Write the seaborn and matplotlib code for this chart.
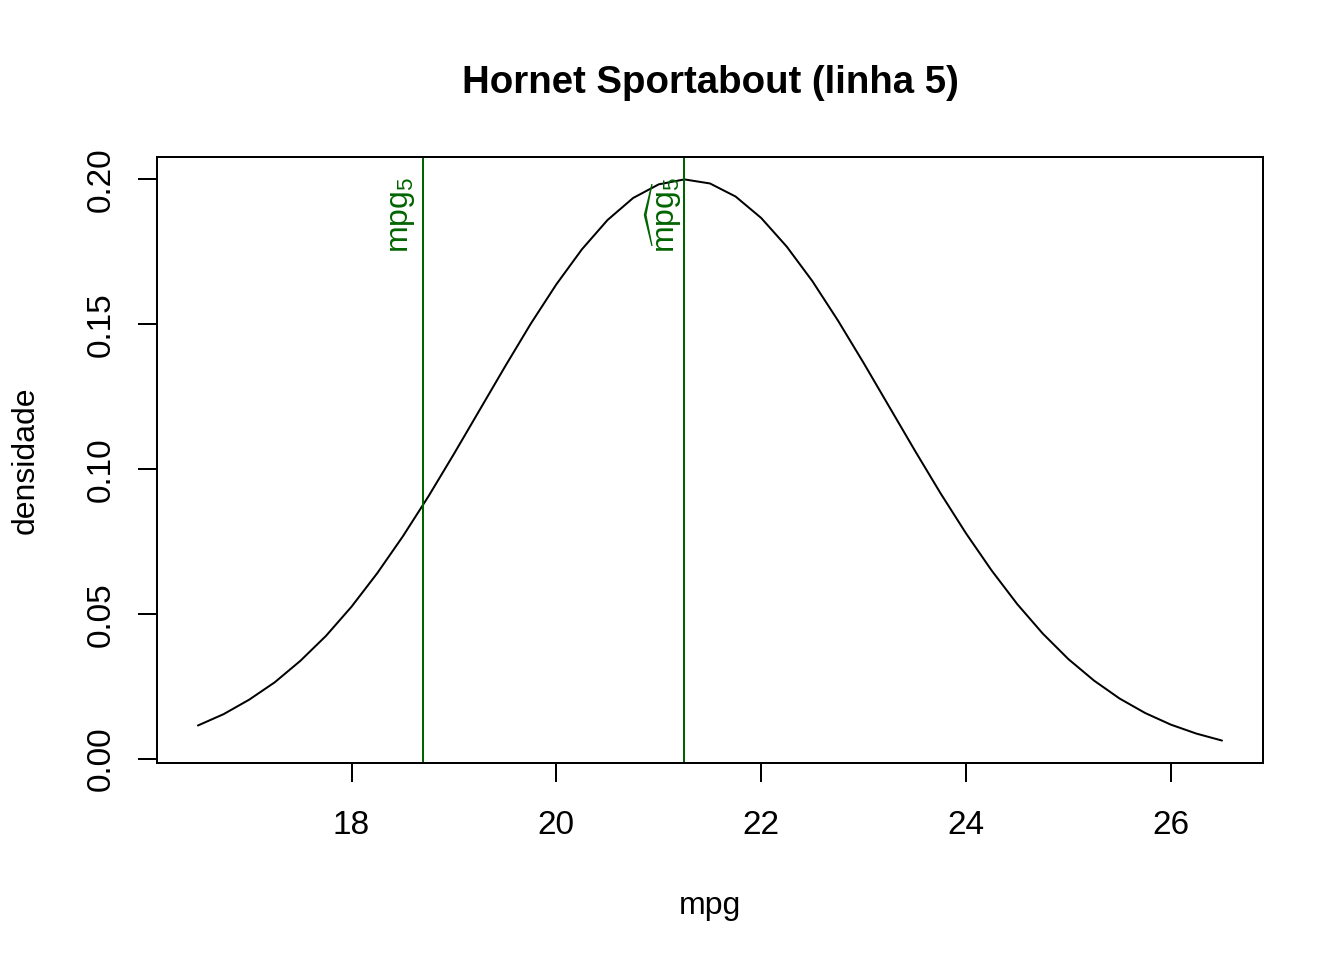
import numpy as np
import pandas as pd
import matplotlib
matplotlib.use("Agg")
import matplotlib.pyplot as plt
import seaborn as sns

# curve (mpg vs density)
mpg = [16.5, 16.75, 17.0, 17.25, 17.5, 17.75, 18.0, 18.25, 18.5, 18.75,
       19.0, 19.25, 19.5, 19.75, 20.0, 20.25, 20.5, 20.75, 21.0, 21.25,
       21.5, 21.75, 22.0, 22.25, 22.5, 22.75, 23.0, 23.25, 23.5, 23.75,
       24.0, 24.25, 24.5, 24.75, 25.0, 25.25, 25.5, 25.75, 26.0, 26.25, 26.5]
densidade = [0.0116, 0.0155, 0.0205, 0.0265, 0.0339, 0.0425, 0.0526, 0.0641, 0.0768, 0.0906,
             0.1053, 0.1204, 0.1355, 0.1502, 0.1638, 0.1759, 0.1860, 0.1936, 0.1983, 0.2000,
             0.1986, 0.1941, 0.1867, 0.1768, 0.1649, 0.1513, 0.1367, 0.1216, 0.1065, 0.0918,
             0.0779, 0.0651, 0.0535, 0.0433, 0.0345, 0.0271, 0.0209, 0.0159, 0.0119, 0.0088, 0.0064]
mpg_obs = 18.7      # mpg_5
mpg_hat = 21.25     # fitted mpg_5
xticks = [18, 20, 22, 24, 26]
yticks = [0.00, 0.05, 0.10, 0.15, 0.20]

sns.set_theme(style="white")
plt.rcParams['font.family'] = ['Liberation Sans', 'DejaVu Sans']
plt.rcParams['mathtext.fontset'] = 'custom'
plt.rcParams['mathtext.rm'] = 'Liberation Sans'
plt.rcParams['mathtext.it'] = 'Liberation Sans'
plt.rcParams['text.color'] = 'black'
plt.rcParams['axes.labelcolor'] = 'black'

df = pd.DataFrame({"mpg": mpg, "densidade": densidade})

fig = plt.figure(figsize=(7, 5), dpi=192)
ax = fig.add_axes([0.1168, 0.2052, 0.8229, 0.6313])

sns.lineplot(data=df, x="mpg", y="densidade", color="black", linewidth=0.75, ax=ax)
ax.margins(x=0.04, y=0.04)

green = "#006400"
ax.axvline(mpg_obs, color=green, linewidth=0.75)
ax.axvline(mpg_hat, color=green, linewidth=0.75)

ax.annotate(r"$\mathregular{mpg_5}$", xy=(mpg_obs, max(densidade)), xytext=(-2.3, 1),
            textcoords="offset points", rotation=90, ha="right", va="top",
            color=green, fontsize=12)
ax.annotate(r"$\mathregular{\widehat{mpg}_5}$", xy=(mpg_hat, max(densidade)), xytext=(-0.3, 1),
            textcoords="offset points", rotation=90, ha="right", va="top",
            color=green, fontsize=12)

ax.set_xticks(xticks)
ax.set_yticks(yticks)
ax.set_yticklabels([f"{v:.2f}" for v in yticks], rotation=90, va="center")
ax.tick_params(axis="both", direction="out", length=7, width=0.75, labelsize=12.5,
               colors="black", bottom=True, left=True)
ax.tick_params(axis="x", pad=10.5)
ax.tick_params(axis="y", pad=8)
for s in ax.spines.values():
    s.set_color("black")
    s.set_linewidth(0.75)

ax.set_xlabel("mpg", fontsize=12, labelpad=19)
ax.set_ylabel("densidade", fontsize=12, labelpad=17)
ax.set_title("Hornet Sportabout (linha 5)", fontsize=14.4, fontweight="bold", pad=24,
             color="black")

fig.savefig("out.png", dpi=192)
